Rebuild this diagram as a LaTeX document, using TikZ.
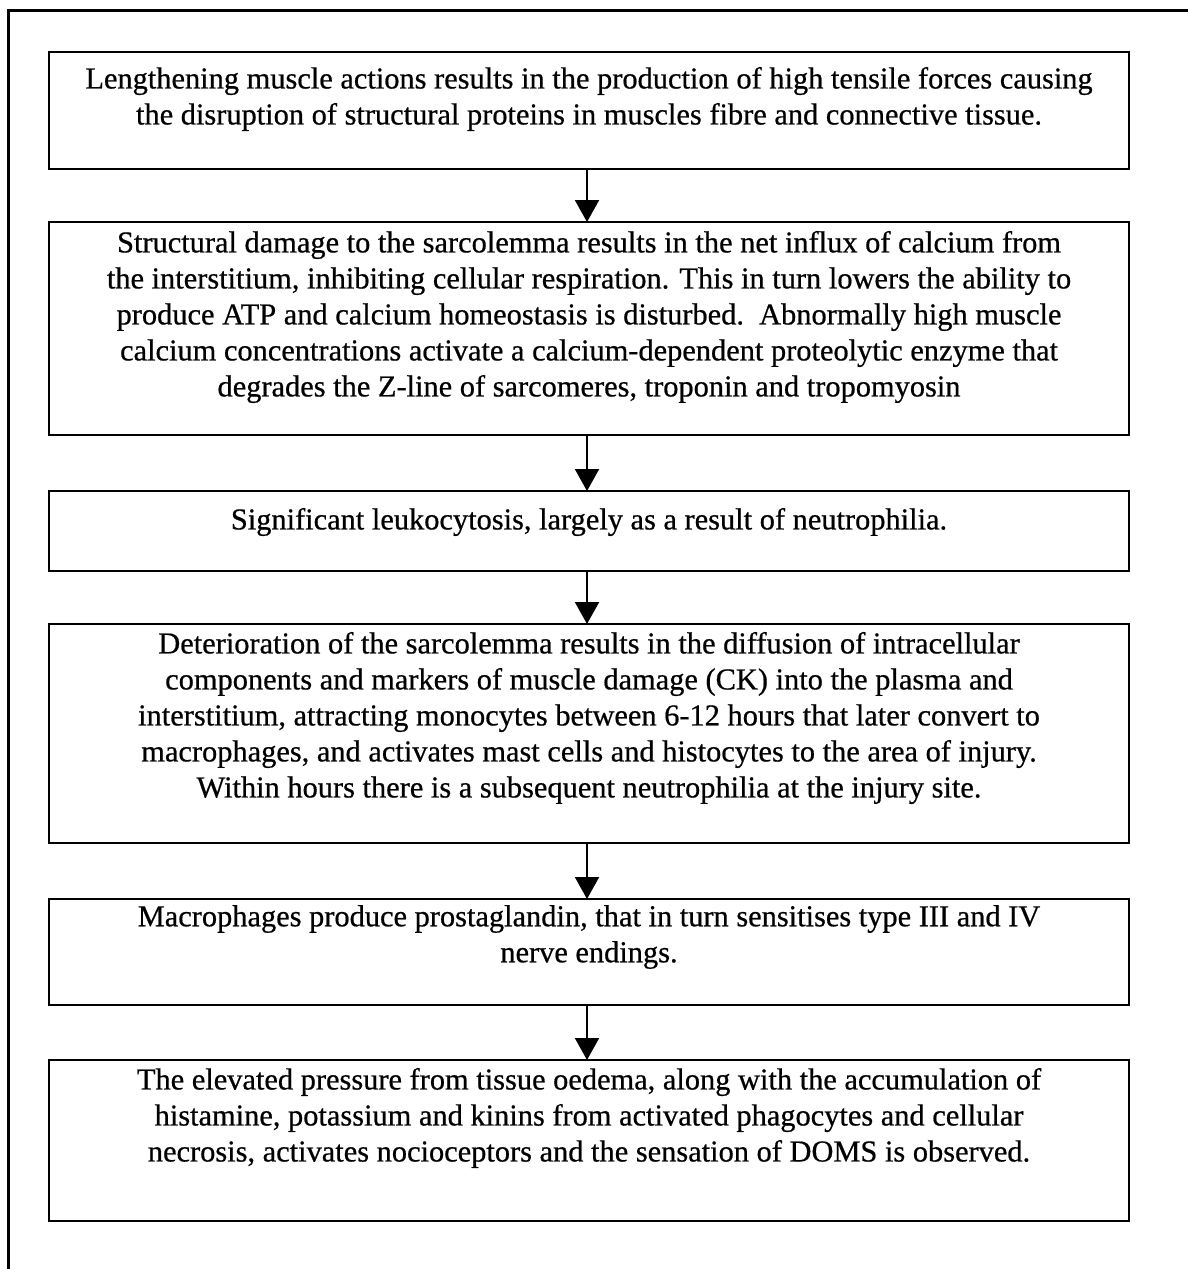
\documentclass[tikz,border=0pt]{standalone}
\usepackage{fontspec}
\setmainfont{Liberation Serif}[FakeBold=0.6]
\usetikzlibrary{arrows.meta}
\tikzset{
  flowbox/.style={draw=black, line width=1pt, rectangle, minimum width=540pt, inner sep=0pt},
  flowtext/.style={align=center, inner sep=0pt, font=\fontsize{15.2}{18}\selectfont},
  flowarrow/.style={line width=1pt, -{Triangle[width=12pt,length=11pt]}, shorten >=-0.5pt},
  frame/.style={line width=1.5pt}
}
\begin{document}
\begin{tikzpicture}[x=0.5pt,y=-0.5pt]
\useasboundingbox (0,0) rectangle (1188,1269);
\draw[frame] (8,1269) -- (8,10) -- (1188,10);

\node[flowbox, minimum height=58.5pt] (b1) at (589,110.5) {};
\node[flowbox, minimum height=106.5pt] (b2) at (589,328.5) {};
\node[flowbox, minimum height=40pt] (b3) at (589,531) {};
\node[flowbox, minimum height=109.5pt] (b4) at (589,733.5) {};
\node[flowbox, minimum height=53pt] (b5) at (589,952) {};
\node[flowbox, minimum height=80.5pt] (b6) at (589,1140.5) {};

\node[flowtext] (t1) at (589,99) {Lengthening muscle actions results in the production of high tensile forces causing\\the disruption of structural proteins in muscles fibre and connective tissue.};
\node[flowtext] (t2) at (589,317) {Structural damage to the sarcolemma results in the net influx of calcium from\\the interstitium, inhibiting cellular respiration. This in turn lowers the ability to\\produce ATP and calcium homeostasis is disturbed.\ \ Abnormally high muscle\\calcium concentrations activate a calcium-dependent proteolytic enzyme that\\degrades the Z-line of sarcomeres, troponin and tropomyosin};
\node[flowtext] (t3) at (589,522) {Significant leukocytosis, largely as a result of neutrophilia.};
\node[flowtext] (t4) at (589,718) {Deterioration of the sarcolemma results in the diffusion of intracellular\\components and markers of muscle damage (CK) into the plasma and\\interstitium, attracting monocytes between 6-12 hours that later convert to\\macrophages, and activates mast cells and histocytes to the area of injury.\\Within hours there is a subsequent neutrophilia at the injury site.};
\node[flowtext] (t5) at (589,937) {Macrophages produce prostaglandin, that in turn sensitises type III and IV\\nerve endings.};
\node[flowtext] (t6) at (589,1118) {The elevated pressure from tissue oedema, along with the accumulation of\\histamine, potassium and kinins from activated phagocytes and cellular\\necrosis, activates nocioceptors and the sensation of DOMS is observed.};

\draw[flowarrow] (b1.south) ++(-2,0) coordinate (a1s) -- (a1s |- b2.north);
\draw[flowarrow] (b2.south) ++(-2,0) coordinate (a2s) -- (a2s |- b3.north);
\draw[flowarrow] (b3.south) ++(-2,0) coordinate (a3s) -- (a3s |- b4.north);
\draw[flowarrow] (b4.south) ++(-2,0) coordinate (a4s) -- (a4s |- b5.north);
\draw[flowarrow] (b5.south) ++(-2,0) coordinate (a5s) -- (a5s |- b6.north);
\end{tikzpicture}
\end{document}
